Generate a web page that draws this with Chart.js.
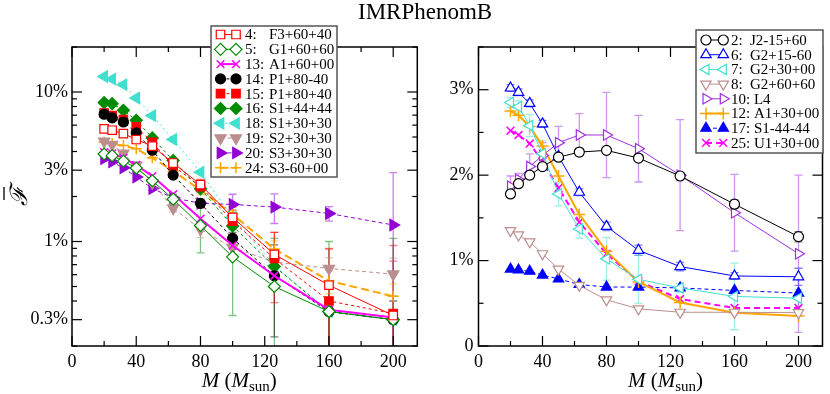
<!DOCTYPE html>
<html><head><meta charset="utf-8">
<script src="https://cdn.jsdelivr.net/npm/chart.js@4.4.0/dist/chart.umd.min.js"></script>
<style>
html,body{margin:0;padding:0;background:#fff;}
#wrap{position:relative;width:830px;height:394px;overflow:hidden;background:#fff;}
#title{position:absolute;left:358px;top:0;font:23px/23px "Liberation Serif",serif;color:#000;white-space:nowrap;}
canvas{position:absolute;top:0;}
#cL{left:0;width:425px;height:394px;}
#cR{left:425px;width:405px;height:394px;}
</style></head><body>
<div id="wrap">
<canvas id="cL" width="425" height="394"></canvas>
<canvas id="cR" width="405" height="394"></canvas>
<div id="title">IMRPhenomB</div>
</div>
<script>
// ---------- data ----------
const masses = [20, 25, 32, 40, 50, 63, 80, 100, 126, 160, 200];
const xTickValues = [0, 40, 80, 120, 160, 200];
const xTickLabels = ['0', '40', '80', '120', '160', '200'];
const leftTickValues = [0.3, 1, 3, 10];
const leftTickLabels = ['0.3%', '1%', '3%', '10%'];
const rightTickValues = [0, 1, 2, 3];
const rightTickLabels = ['0', '1%', '2%', '3%'];

// left panel (fitting factor deficit, percent)
const leftNums  = [4, 5, 13, 14, 15, 16, 18, 19, 20, 24];
const leftNames = ['F3+60+40', 'G1+60+60', 'A1+60+00', 'P1+80-40', 'P1+80+40', 'S1+44+44', 'S1+30+30', 'S2+30+30', 'S3+30+30', 'S3-60+00'];
const L4  = [5.67, 5.55, 5.27, 4.81, 4.35, 3.35, 2.40, 1.45, 0.82, 0.51, 0.32];
const L5  = [3.85, 3.75, 3.45, 3.10, 2.55, 1.92, 1.28, 0.79, 0.50, 0.34, 0.30];
const L13 = [3.96, 3.88, 3.63, 3.25, 2.74, 2.07, 1.42, 0.94, 0.59, 0.35, 0.31];
const L14 = [7.10, 6.71, 6.30, 5.33, 4.08, 2.78, 1.80, 1.05, 0.59, 0.34, 0.30];
const L15 = [7.24, 6.95, 6.53, 5.84, 4.61, 3.21, 2.33, 1.37, 0.77, 0.40, 0.33];
const L16 = [8.50, 8.36, 7.54, 6.47, 4.93, 3.48, 2.25, 1.27, 0.68, 0.34, 0.30];
const L18 = [12.7, 12.2, 11.2, 9.12, 6.95, 4.81, 2.91, 1.45, 0.69, 0.34, 0.30];
const L19 = [4.68, 4.45, 3.88, 3.23, 2.47, 1.67, 1.21, 0.91, 0.73, 0.66, 0.605];
const L20 = [3.58, 3.41, 3.11, 2.70, 2.26, 1.96, 1.80, 1.77, 1.70, 1.54, 1.29];
const L24 = [4.61, 4.52, 4.38, 4.17, 3.63, 2.96, 2.21, 1.52, 0.89, 0.546, 0.43];
// error bars (percent)
const L4err  = [0, 0, 0, 0, 0, 0.15, 0.2, 0.25, 0.33, 0.38, 0.62];
const L5err  = [0, 0, 0, 0, 0.08, 0.15, 0.44, 0.47, 0.55, 0.66, 0.75];
const L14err = [0, 0, 0, 0, 0.1, 0.12, 0.12, 0.1, 0.36, 0.15, 0.1];
const L15err = [0, 0, 0, 0, 0.1, 0.15, 0.2, 0.25, 0.38, 0.5, 0.41];
const L19err = [0, 0, 0, 0.1, 0.12, 0.1, 0.15, 0.12, 0.1, 0.12, 0.17];
const L20err = [0, 0, 0, 0, 0.05, 0.06, 0.1, 0.3, 0.38, 0.17, 1.6];
const L24err = [0, 0, 0, 0, 0.05, 0.08, 0.15, 0.1, 0.12, 0.1, 0.09];

// right panel
const rightNums  = [2, 6, 7, 8, 10, 12, 17, 25];
const rightNames = ['J2-15+60', 'G2+15-60', 'G2+30+00', 'G2+60+60', 'L4', 'A1+30+00', 'S1-44-44', 'U1+30+00'];
const R2  = [1.78, 1.90, 2.00, 2.10, 2.21, 2.27, 2.29, 2.20, 1.99, 1.66, 1.28];
const R6  = [3.02, 2.97, 2.84, 2.60, 2.22, 1.80, 1.40, 1.12, 0.93, 0.82, 0.81];
const R7  = [2.85, 2.80, 2.58, 2.25, 1.78, 1.37, 1.02, 0.78, 0.68, 0.58, 0.56];
const R8  = [1.35, 1.30, 1.22, 1.08, 0.90, 0.71, 0.54, 0.435, 0.395, 0.395, 0.39];
const R10 = [1.87, 1.95, 2.10, 2.23, 2.38, 2.47, 2.47, 2.31, 2.00, 1.56, 1.08];
const R12 = [2.75, 2.70, 2.57, 2.34, 1.99, 1.54, 1.11, 0.75, 0.51, 0.39, 0.35];
const R17 = [0.90, 0.89, 0.875, 0.83, 0.785, 0.72, 0.69, 0.69, 0.68, 0.65, 0.62];
const R25 = [2.52, 2.47, 2.37, 2.16, 1.85, 1.45, 1.08, 0.757, 0.55, 0.445, 0.445];
const R2err  = [0.03, 0.03, 0.03, 0.03, 0.03, 0.03, 0.03, 0.03, 0.04, 0.05, 0.06];
const R6err  = [0.04, 0.04, 0.04, 0.04, 0.04, 0.04, 0.05, 0.06, 0.05, 0.04, 0.1];
const R7err  = [0.06, 0.07, 0.13, 0.15, 0.14, 0.11, 0.25, 0.28, 0.05, 0.39, 0.1];
const R8err  = [0, 0, 0, 0, 0, 0, 0, 0, 0.03, 0.03, 0.03];
const R10err = [0.12, 0.07, 0.15, 0.15, 0.19, 0.25, 0.5, 0.39, 0.65, 0.45, 0.92];

// ---------- helpers ----------
const FONT = '"Liberation Serif", "Times New Roman", serif';
Chart.defaults.font.family = FONT;
Chart.defaults.color = '#000';

function rgba(hex, a) {
  const n = parseInt(hex.slice(1), 16);
  return `rgba(${(n >> 16) & 255},${(n >> 8) & 255},${n & 255},${a})`;
}
function series(num, name, vals, err, st) {
  return {
    num: num, label: name,
    data: masses.map((m, i) => ({x: m, y: vals[i]})),
    err: err || null,
    errColor: rgba(st.c, 0.5),
    showLine: true, tension: 0,
    borderColor: st.c, borderWidth: st.lw || 1, borderDash: st.dash || [],
    pointStyle: st.ps, pointRotation: st.rot || 0, pointRadius: st.r || 5.5,
    pointHoverRadius: st.r || 5.5,
    pointBackgroundColor: st.open ? '#fff' : st.c,
    pointBorderColor: st.c, pointBorderWidth: st.bw || 1.2
  };
}

const frameTicks = {
  id: 'frameTicks',
  beforeDatasetsDraw(chart, args, o) {
    const {ctx, chartArea: a} = chart;
    const x = chart.scales.x, y = chart.scales.y;
    ctx.save();
    ctx.strokeStyle = '#000';
    ctx.lineWidth = 1.2;
    const seg = (x1, y1, x2, y2) => { ctx.beginPath(); ctx.moveTo(x1, y1); ctx.lineTo(x2, y2); ctx.stroke(); };
    o.xTicks.forEach(t => {
      const p = x.getPixelForValue(t.v);
      seg(p, a.bottom, p, a.bottom - t.len);
      seg(p, a.top, p, a.top + t.len);
    });
    o.yTicks.forEach(t => {
      const p = y.getPixelForValue(t.v);
      seg(a.left, p, a.left + t.len, p);
      seg(a.right, p, a.right - t.len, p);
    });
    ctx.lineWidth = 1.5;
    ctx.strokeRect(a.left, a.top, a.right - a.left, a.bottom - a.top);
    ctx.restore();
  }
};

const errorBars = {
  id: 'errorBars',
  beforeDatasetsDraw(chart) {
    const {ctx, chartArea: a} = chart;
    const x = chart.scales.x, y = chart.scales.y;
    const isLog = y.type === 'logarithmic';
    ctx.save();
    ctx.beginPath(); ctx.rect(a.left, a.top, a.right - a.left, a.bottom - a.top); ctx.clip();
    chart.data.datasets.forEach(ds => {
      if (!ds.err) return;
      ctx.strokeStyle = ds.errColor; ctx.lineWidth = 1.3;
      ds.data.forEach((pt, i) => {
        const e = ds.err[i];
        if (!e) return;
        const px = x.getPixelForValue(pt.x);
        const hi = y.getPixelForValue(pt.y + e);
        const loOk = !isLog || pt.y - e > 0;
        const lo = loOk ? y.getPixelForValue(pt.y - e) : a.bottom + 10;
        ctx.beginPath();
        ctx.moveTo(px, hi); ctx.lineTo(px, lo);
        ctx.moveTo(px - 4, hi); ctx.lineTo(px + 4, hi);
        if (loOk) { ctx.moveTo(px - 4, lo); ctx.lineTo(px + 4, lo); }
        ctx.stroke();
      });
    });
    ctx.restore();
  }
};

const boxLegend = {
  id: 'boxLegend',
  afterDraw(chart, args, o) {
    const ctx = chart.ctx;
    ctx.save();
    ctx.fillStyle = '#fff';
    ctx.fillRect(o.x, o.y, o.w, o.h);
    ctx.strokeStyle = '#555'; ctx.lineWidth = 1.5;
    ctx.strokeRect(o.x, o.y, o.w, o.h);
    chart.data.datasets.forEach((ds, i) => {
      const cy = o.y + o.first + i * o.step;
      ctx.strokeStyle = ds.borderColor; ctx.lineWidth = ds.borderWidth;
      ctx.setLineDash(ds.borderDash);
      ctx.beginPath(); ctx.moveTo(o.m1, cy); ctx.lineTo(o.m2, cy); ctx.stroke();
      ctx.setLineDash([]);
      [o.m1, o.m2].forEach(mx => {
        ctx.fillStyle = ds.pointBackgroundColor;
        ctx.strokeStyle = ds.pointBorderColor;
        ctx.lineWidth = ds.pointBorderWidth;
        Chart.helpers.drawPoint(ctx, {pointStyle: ds.pointStyle, rotation: ds.pointRotation, radius: ds.pointRadius, borderWidth: ds.pointBorderWidth}, mx, cy);
      });
      ctx.fillStyle = '#000';
      ctx.font = '15px ' + FONT;
      ctx.textBaseline = 'middle'; ctx.textAlign = 'left';
      if (o.joinWide && ds.num >= 10) {
        ctx.fillText(ds.num + ': ' + ds.label, o.tx, cy + 1);
      } else {
        ctx.fillText(ds.num + ':', o.tx, cy + 1);
        ctx.fillText(ds.label, o.lx, cy + 1);
      }
    });
    ctx.restore();
  }
};

const axisTitles = {
  id: 'axisTitles',
  afterDraw(chart, args, o) {
    const ctx = chart.ctx;
    ctx.save();
    ctx.fillStyle = '#000'; ctx.textAlign = 'left'; ctx.textBaseline = 'alphabetic';
    let x = o.mx;
    const put = (t, font, dy) => { ctx.font = font; ctx.fillText(t, x, o.base + dy); x += ctx.measureText(t).width; };
    put('M', 'italic 21px ' + FONT, 0);
    put(' (', '21px ' + FONT, 0);
    put('M', 'italic 21px ' + FONT, 0);
    put('sun', '15px ' + FONT, 4);
    put(')', '21px ' + FONT, 0);
    if (o.yTitle) {
      ctx.translate(17, 196);
      ctx.rotate(-Math.PI / 2);
      ctx.font = 'italic 24px ' + FONT;
      ctx.textAlign = 'center';
      ctx.fillText('\u2131', 0, 10);
      ctx.strokeStyle = '#000'; ctx.lineWidth = 1.3;
      ctx.beginPath(); ctx.moveTo(-4, -13); ctx.lineTo(9, -13); ctx.stroke();
    }
    ctx.restore();
  }
};

function xAxis() {
  return {
    type: 'linear', min: 0, max: 215,
    grid: {display: false, drawTicks: false}, border: {display: false},
    afterBuildTicks: s => { s.ticks = xTickValues.map(v => ({value: v})); },
    afterFit: s => { s.height = 48; },
    ticks: {autoSkip: false, maxRotation: 0, padding: 5, color: '#000', font: {size: 18, family: FONT},
      callback: (v, i) => xTickLabels[i]}
  };
}
const xTickMarks = [];
for (let v = 0; v <= 200; v += 20) xTickMarks.push({v: v, len: v % 40 === 0 ? 10 : 5});

// ---------- left chart ----------
const leftStyles = [
  {c: '#ff0000', ps: 'rect', open: true, r: 6},
  {c: '#008b00', ps: 'rectRot', open: true, r: 6},
  {c: '#ff00ff', ps: 'crossRot', lw: 2, r: 5.5, bw: 1.5},
  {c: '#000000', ps: 'circle', dash: [3, 3], r: 5},
  {c: '#ff0000', ps: 'rect', dash: [3, 3], r: 6},
  {c: '#008b00', ps: 'rectRot', dash: [3, 3], r: 6},
  {c: '#40e0d0', ps: 'triangle', rot: -90, dash: [2, 3], r: 6.5},
  {c: '#bc8f8f', ps: 'triangle', rot: 180, dash: [4, 3], r: 6.5},
  {c: '#9400d3', ps: 'triangle', rot: 90, dash: [4, 3], r: 6.5},
  {c: '#ffa500', ps: 'cross', dash: [8, 4], lw: 2, r: 5.5, bw: 1.5}
];
const leftVals = [L4, L5, L13, L14, L15, L16, L18, L19, L20, L24];
const leftErrs = [L4err, L5err, null, L14err, L15err, null, null, L19err, L20err, L24err];
const leftSets = leftVals.map((v, i) => series(leftNums[i], leftNames[i], v, leftErrs[i], leftStyles[i]));

const yTicksLeft = [];
[0.1, 1, 10].forEach(d => { for (let k = 1; k <= 9; k++) { const v = +(k * d).toFixed(3); if (v >= 0.2 && v <= 20) yTicksLeft.push({v: v, len: leftTickValues.includes(v) ? 10 : 5}); } });

new Chart(document.getElementById('cL'), {
  type: 'scatter',
  data: {datasets: leftSets},
  options: {
    responsive: false, animation: false, devicePixelRatio: 1,
    layout: {padding: {top: 47, right: 3.6, left: 0, bottom: 0}},
    plugins: {legend: {display: false}, tooltip: {enabled: false},
      frameTicks: {xTicks: xTickMarks, yTicks: yTicksLeft},
      boxLegend: {x: 211, y: 26, w: 126, h: 151, first: 8.5, step: 14.8, m1: 220.5, m2: 236, tx: 245, lx: 269, joinWide: false},
      axisTitles: {mx: 201.7, base: 387, yTitle: true}},
    scales: {
      x: xAxis(),
      y: {type: 'logarithmic', min: 0.2, max: 20,
        grid: {display: false, drawTicks: false}, border: {display: false},
        afterBuildTicks: s => { s.ticks = leftTickValues.map(v => ({value: v})); },
        afterFit: s => { s.width = 72; },
        ticks: {autoSkip: false, padding: 4, color: '#000', font: {size: 18, family: FONT},
          callback: (v, i) => leftTickLabels[i]}}
    }
  },
  plugins: [errorBars, frameTicks, boxLegend, axisTitles]
});

// ---------- right chart ----------
const rightStyles = [
  {c: '#000000', ps: 'circle', open: true, r: 5},
  {c: '#0000ff', ps: 'triangle', open: true, r: 6},
  {c: '#40e0d0', ps: 'triangle', rot: -90, open: true, r: 6},
  {c: '#bc8f8f', ps: 'triangle', rot: 180, open: true, r: 6},
  {c: '#a030e0', ps: 'triangle', rot: 90, open: true, r: 6},
  {c: '#ffa500', ps: 'cross', lw: 2, r: 6, bw: 1.5},
  {c: '#0000ff', ps: 'triangle', dash: [4, 3], r: 6},
  {c: '#ff00ff', ps: 'crossRot', dash: [6, 4], lw: 2, r: 5.5, bw: 1.5}
];
const rightVals = [R2, R6, R7, R8, R10, R12, R17, R25];
const rightErrs = [R2err, R6err, R7err, R8err, R10err, null, null, null];
const rightSets = rightVals.map((v, i) => series(rightNums[i], rightNames[i], v, rightErrs[i], rightStyles[i]));
const yTicksRight = [0, 0.5, 1, 1.5, 2, 2.5, 3, 3.5].map(v => ({v: v, len: Number.isInteger(v) ? 10 : 5}));

new Chart(document.getElementById('cR'), {
  type: 'scatter',
  data: {datasets: rightSets},
  options: {
    responsive: false, animation: false, devicePixelRatio: 1,
    layout: {padding: {top: 47, right: 2.1, left: 0, bottom: 0}},
    plugins: {legend: {display: false}, tooltip: {enabled: false},
      frameTicks: {xTicks: xTickMarks, yTicks: yTicksRight},
      boxLegend: {x: 271, y: 30, w: 127, h: 123, first: 10, step: 14.7, m1: 281, m2: 298.3, tx: 306, lx: 325, joinWide: true},
      axisTitles: {mx: 203, base: 387, yTitle: false}},
    scales: {
      x: xAxis(),
      y: {type: 'linear', min: 0, max: 3.5,
        grid: {display: false, drawTicks: false}, border: {display: false},
        afterBuildTicks: s => { s.ticks = rightTickValues.map(v => ({value: v})); },
        afterFit: s => { s.width = 53.5; },
        ticks: {autoSkip: false, padding: 5, color: '#000', font: {size: 18, family: FONT},
          callback: (v, i) => rightTickLabels[i]}}
    }
  },
  plugins: [errorBars, frameTicks, boxLegend, axisTitles]
});
</script>
</body></html>
